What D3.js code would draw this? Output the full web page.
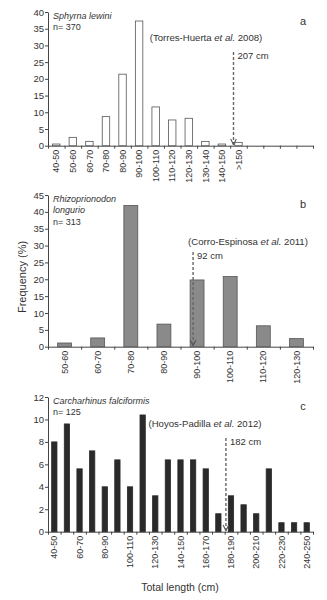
<!DOCTYPE html>
<html>
<head>
<meta charset="utf-8">
<script src="https://cdn.jsdelivr.net/npm/d3@7"></script>
<style>
  body { margin: 0; background: #fff; }
  text { font-family: "Liberation Sans Narrow", "Arial Narrow", "Liberation Sans", Arial, sans-serif; fill: #333; }
  .axis path, .axis line { stroke: #444; }
</style>
</head>
<body>
<svg width="327" height="600"></svg>
<script>
// panel a - Sphyrna lewini
const catsA = ["40-50","50-60","60-70","70-80","80-90","90-100","100-110","110-120","120-130","130-140","140-150",">150"]
const valsA = [0.5, 2.5, 1.3, 8.7, 21.4, 37.3, 11.6, 7.7, 8.2, 1.3, 0.5, 1.0]
const ticksA = [0,5,10,15,20,25,30,35,40]

// panel b - Rhizoprionodon longurio
const catsB = ["50-60","60-70","70-80","80-90","90-100","100-110","110-120","120-130"]
const valsB = [1.1, 2.6, 41.9, 6.7, 19.8, 20.8, 6.2, 2.4]
const ticksB = [0,5,10,15,20,25,30,35,40,45]

// panel c - Carcharhinus falciformis
const catsC = ["40-50","50-60","60-70","70-80","80-90","90-100","100-110","110-120","120-130","130-140",
  "140-150","150-160","160-170","170-180","180-190","190-200","200-210","210-220","220-230","230-240","240-250"]
const valsC = [8.0, 9.6, 5.6, 7.2, 4.0, 6.4, 4.0, 10.4, 3.2, 6.4, 6.4, 6.4, 5.6, 1.6, 3.2, 2.4, 1.6, 5.6, 0.8, 0.8, 0.8]
const ticksC = [0,2,4,6,8,10,12]

const svg = d3.select("svg")

svg.append("defs").append("marker")
  .attr("id", "head")
  .attr("viewBox", "0 0 10 10")
  .attr("refX", 9).attr("refY", 5)
  .attr("markerWidth", 7).attr("markerHeight", 7)
  .attr("markerUnits", "userSpaceOnUse")
  .attr("orient", "auto")
  .append("path")
  .attr("d", "M1,1 L9,5 L1,9")
  .attr("fill", "none")
  .attr("stroke", "#555")
  .attr("stroke-width", 1.6)

function panel(p) {
  const x = d3.scaleLinear().domain([0, p.slots]).range([48, 313])
  const y = d3.scaleLinear().domain([0, p.yMax]).range([p.bottom, p.top])
  const g = svg.append("g")

  g.append("g").attr("class", "axis")
    .attr("transform", "translate(48,0)")
    .call(d3.axisLeft(y).tickValues(p.yTicks).tickSize(3).tickSizeOuter(0).tickPadding(1))
    .attr("font-size", 9.5).attr("font-family", null)

  g.append("g").attr("class", "axis")
    .attr("transform", `translate(0,${p.bottom})`)
    .call(d3.axisBottom(x).tickValues(d3.range(p.slots + 1)).tickFormat("").tickSize(3).tickSizeOuter(0))

  const bw = p.barW
  g.selectAll("rect")
    .data(p.vals)
    .join("rect")
    .attr("x", (d, i) => x(i + 0.5 - bw / 2))
    .attr("width", x(bw) - x(0))
    .attr("y", d => y(d))
    .attr("height", d => y(0) - y(d))
    .style("fill", p.fill)
    .style("stroke", p.stroke)
    .style("stroke-width", "0.8px")

  g.selectAll(".xl")
    .data(p.cats.map((c, i) => ({c, i})).filter(d => d.i % p.every === 0))
    .join("text")
    .attr("class", "xl")
    .attr("transform", d => `translate(${x(d.i + 0.5)},${p.bottom + 4}) rotate(-90)`)
    .attr("dy", "0.35em")
    .attr("text-anchor", "end")
    .attr("font-size", 9)
    .text(d => d.c)

  // species name and n
  p.species.forEach((s, k) => {
    g.append("text")
      .attr("x", 53).attr("y", p.top + 6.5 + k * 11.7)
      .attr("font-size", 9)
      .attr("font-style", k < p.species.length - 1 ? "italic" : null)
      .text(s)
  })

  g.append("text")
    .attr("x", 303).attr("y", p.top + 13)
    .attr("text-anchor", "middle")
    .attr("font-size", 11)
    .attr("fill", "#555")
    .text(p.letter)

  // citation
  const cit = g.append("text")
    .attr("x", p.citX).attr("y", p.citY)
    .attr("text-anchor", "middle")
    .attr("font-size", 9.6)
  cit.append("tspan").text(p.cite[0] + " ")
  cit.append("tspan").attr("font-style", "italic").text("et al.")
  cit.append("tspan").text(" " + p.cite[1])

  // arrow for size at maturity
  const ax = x(p.arrowSlot)
  g.append("line")
    .attr("x1", ax).attr("x2", ax)
    .attr("y1", p.arrowTop).attr("y2", y(0) - 1)
    .attr("stroke", "#666")
    .attr("stroke-width", 1.4)
    .attr("stroke-dasharray", "3,2")
    .attr("marker-end", "url(#head)")

  g.append("text")
    .attr("x", ax + 4).attr("y", p.arrowTop + 7)
    .attr("font-size", 9.5)
    .text(p.arrowLabel)
}

panel({ cats: catsA, vals: valsA, yTicks: ticksA, yMax: 40, slots: 16, top: 12, bottom: 145.7,
  barW: 0.45, fill: "#fff", stroke: "#555", every: 1, letter: "a",
  species: ["Sphyrna lewini", "n= 370"], cite: ["(Torres-Huerta", "2008)"], citX: 206, citY: 41,
  arrowSlot: catsA.indexOf(">150") + 0.2, arrowTop: 52, arrowLabel: "207 cm" })

panel({ cats: catsB, vals: valsB, yTicks: ticksB, yMax: 45, slots: 8, top: 195, bottom: 346.7,
  barW: 0.42, fill: "#8a8a8a", stroke: "#555", every: 1, letter: "b",
  species: ["Rhizoprionodon", "longurio", "n= 313"], cite: ["(Corro-Espinosa", "2011)"], citX: 248, citY: 245,
  arrowSlot: catsB.indexOf("90-100") + 0.38, arrowTop: 252, arrowLabel: "92 cm" })

panel({ cats: catsC, vals: valsC, yTicks: ticksC, yMax: 12, slots: 21, top: 397, bottom: 531.7,
  barW: 0.42, fill: "#2a2a2a", stroke: "#2a2a2a", every: 2, letter: "c",
  species: ["Carcharhinus falciformis", "n= 125"], cite: ["(Hoyos-Padilla", "2012)"], citX: 205, citY: 426.5,
  arrowSlot: catsC.indexOf("180-190") + 0.1, arrowTop: 438, arrowLabel: "182 cm" })

// shared axis titles
svg.append("text")
  .attr("transform", "translate(22,277) rotate(-90)")
  .attr("dy", "0.35em")
  .attr("text-anchor", "middle")
  .attr("font-size", 11)
  .text("Frequency (%)")

svg.append("text")
  .attr("x", 180).attr("y", 591)
  .attr("text-anchor", "middle")
  .attr("font-size", 10.5)
  .text("Total length (cm)")
</script>
</body>
</html>
